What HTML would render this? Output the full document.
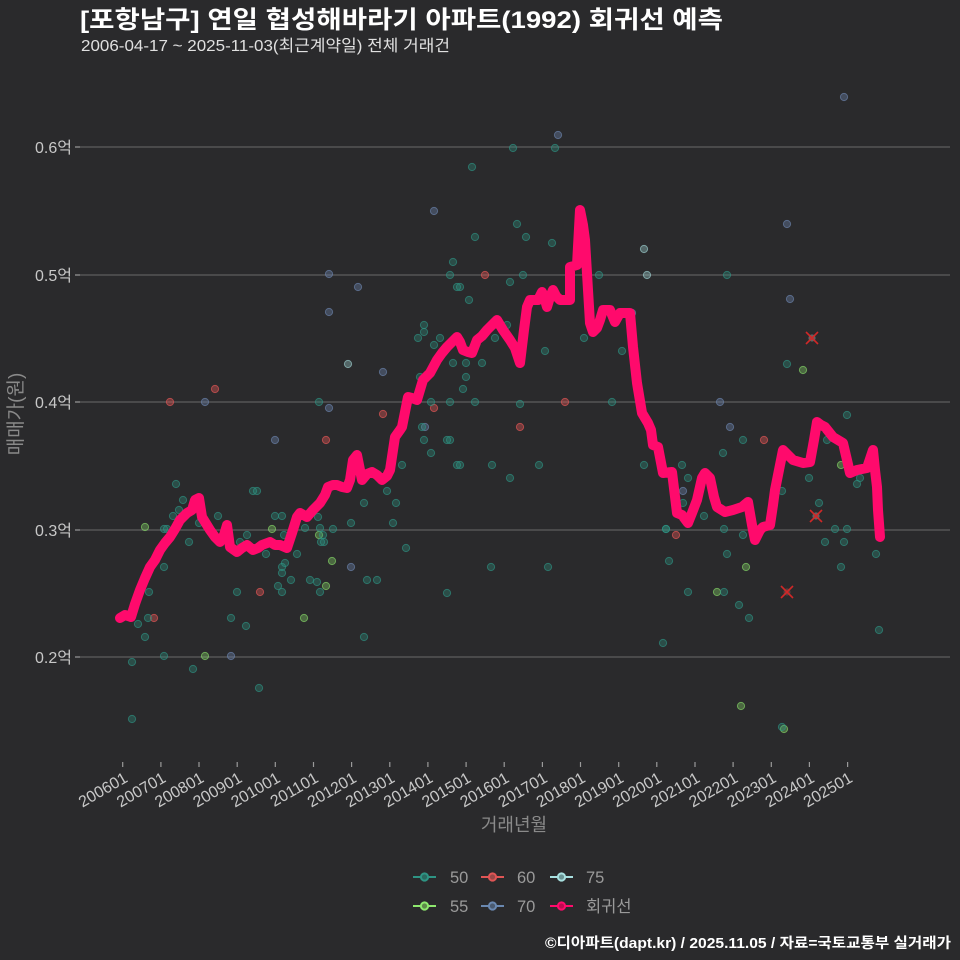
<!DOCTYPE html>
<html><head><meta charset="utf-8">
<style>
html,body{margin:0;padding:0;background:#2a2a2c;}
svg{display:block;}
text{font-family:"Liberation Sans","Noto Sans CJK KR",sans-serif;}
.t{fill:#2e9484;fill-opacity:.33;stroke:#2e9484;stroke-opacity:.65;stroke-width:1}
.g{fill:#8ee86e;fill-opacity:.33;stroke:#8ee86e;stroke-opacity:.6;stroke-width:1}
.r{fill:#e05555;fill-opacity:.4;stroke:#e05555;stroke-opacity:.7;stroke-width:1}
.b{fill:#6a80a8;fill-opacity:.4;stroke:#6a80a8;stroke-opacity:.7;stroke-width:1}
.c{fill:#a8e0e0;fill-opacity:.33;stroke:#a8e0e0;stroke-opacity:.6;stroke-width:1}
.xl{fill:#c8c8c8;font-size:16px}
</style></head>
<body>
<svg width="960" height="960" viewBox="0 0 960 960" xmlns="http://www.w3.org/2000/svg">
<rect width="960" height="960" fill="#2a2a2c"/>

<!-- Title -->
<text x="80" y="28" fill="#ffffff" font-size="24.5" font-weight="bold" textLength="643" lengthAdjust="spacingAndGlyphs">[포항남구] 연일 협성해바라기 아파트(1992) 회귀선 예측</text>
<text x="81" y="51" fill="#e0e0e0" font-size="16" textLength="369" lengthAdjust="spacingAndGlyphs">2006-04-17 ~ 2025-11-03(최근계약일) 전체 거래건</text>

<!-- grid -->
<g stroke="#5e5e5e" stroke-width="1.3">
<line x1="80" y1="147" x2="950" y2="147"/>
<line x1="80" y1="275" x2="950" y2="275"/>
<line x1="80" y1="402" x2="950" y2="402"/>
<line x1="80" y1="530" x2="950" y2="530"/>
<line x1="80" y1="657" x2="950" y2="657"/>
</g>
<g stroke="#9a9a9a" stroke-width="1.2">
<line x1="75" y1="147" x2="80" y2="147"/>
<line x1="75" y1="275" x2="80" y2="275"/>
<line x1="75" y1="402" x2="80" y2="402"/>
<line x1="75" y1="530" x2="80" y2="530"/>
<line x1="75" y1="657" x2="80" y2="657"/>
</g>
<g fill="#c8c8c8" font-size="16" text-anchor="end">
<text x="72" y="153">0.6억</text>
<text x="72" y="281">0.5억</text>
<text x="72" y="408">0.4억</text>
<text x="72" y="536">0.3억</text>
<text x="72" y="663">0.2억</text>
</g>
<text transform="translate(22,414) rotate(-90)" fill="#8a8a8a" font-size="19" text-anchor="middle">매매가(원)</text>

<!-- x ticks -->
<g stroke="#9a9a9a" stroke-width="1.2">
<line x1="122.7" y1="762" x2="122.7" y2="767"/><line x1="160.9" y1="762" x2="160.9" y2="767"/><line x1="199.0" y1="762" x2="199.0" y2="767"/><line x1="237.2" y1="762" x2="237.2" y2="767"/><line x1="275.3" y1="762" x2="275.3" y2="767"/><line x1="313.5" y1="762" x2="313.5" y2="767"/><line x1="351.6" y1="762" x2="351.6" y2="767"/><line x1="389.8" y1="762" x2="389.8" y2="767"/><line x1="427.9" y1="762" x2="427.9" y2="767"/><line x1="466.1" y1="762" x2="466.1" y2="767"/><line x1="504.2" y1="762" x2="504.2" y2="767"/><line x1="542.4" y1="762" x2="542.4" y2="767"/><line x1="580.5" y1="762" x2="580.5" y2="767"/><line x1="618.7" y1="762" x2="618.7" y2="767"/><line x1="656.8" y1="762" x2="656.8" y2="767"/><line x1="695.0" y1="762" x2="695.0" y2="767"/><line x1="733.1" y1="762" x2="733.1" y2="767"/><line x1="771.3" y1="762" x2="771.3" y2="767"/><line x1="809.4" y1="762" x2="809.4" y2="767"/><line x1="847.6" y1="762" x2="847.6" y2="767"/>
</g>
<g class="xl" text-anchor="end">
<text transform="translate(128.7,781) rotate(-30)">200601</text>
<text transform="translate(166.9,781) rotate(-30)">200701</text>
<text transform="translate(205.0,781) rotate(-30)">200801</text>
<text transform="translate(243.2,781) rotate(-30)">200901</text>
<text transform="translate(281.3,781) rotate(-30)">201001</text>
<text transform="translate(319.5,781) rotate(-30)">201101</text>
<text transform="translate(357.6,781) rotate(-30)">201201</text>
<text transform="translate(395.8,781) rotate(-30)">201301</text>
<text transform="translate(433.9,781) rotate(-30)">201401</text>
<text transform="translate(472.1,781) rotate(-30)">201501</text>
<text transform="translate(510.2,781) rotate(-30)">201601</text>
<text transform="translate(548.4,781) rotate(-30)">201701</text>
<text transform="translate(586.5,781) rotate(-30)">201801</text>
<text transform="translate(624.7,781) rotate(-30)">201901</text>
<text transform="translate(662.8,781) rotate(-30)">202001</text>
<text transform="translate(701.0,781) rotate(-30)">202101</text>
<text transform="translate(739.1,781) rotate(-30)">202201</text>
<text transform="translate(777.3,781) rotate(-30)">202301</text>
<text transform="translate(815.4,781) rotate(-30)">202401</text>
<text transform="translate(853.6,781) rotate(-30)">202501</text>
</g>
<text x="514" y="831" fill="#8a8a8a" font-size="18" text-anchor="middle">거래년월</text>

<!-- points -->
<g>
<circle class="b" cx="844" cy="97" r="3.6"/><circle class="b" cx="558" cy="135" r="3.6"/><circle class="b" cx="434" cy="211" r="3.6"/><circle class="b" cx="329" cy="274" r="3.6"/><circle class="b" cx="329" cy="312" r="3.6"/><circle class="b" cx="358" cy="287" r="3.6"/><circle class="b" cx="787" cy="224" r="3.6"/><circle class="b" cx="790" cy="299" r="3.6"/><circle class="b" cx="383" cy="372" r="3.6"/><circle class="b" cx="205" cy="402" r="3.6"/><circle class="b" cx="329" cy="408" r="3.6"/><circle class="b" cx="275" cy="440" r="3.6"/><circle class="b" cx="720" cy="402" r="3.6"/><circle class="b" cx="730" cy="427" r="3.6"/><circle class="b" cx="683" cy="491" r="3.6"/><circle class="b" cx="351" cy="567" r="3.6"/><circle class="b" cx="231" cy="656" r="3.6"/><circle class="b" cx="632" cy="313" r="3.6"/><circle class="b" cx="425" cy="427" r="3.6"/>

<circle class="g" cx="145" cy="527" r="3.6"/><circle class="g" cx="272" cy="529" r="3.6"/><circle class="g" cx="304" cy="618" r="3.6"/><circle class="g" cx="205" cy="656" r="3.6"/><circle class="g" cx="326" cy="586" r="3.6"/><circle class="g" cx="332" cy="561" r="3.6"/><circle class="g" cx="319" cy="535" r="3.6"/><circle class="g" cx="803" cy="370" r="3.6"/><circle class="g" cx="841" cy="465" r="3.6"/><circle class="g" cx="746" cy="567" r="3.6"/><circle class="g" cx="717" cy="592" r="3.6"/><circle class="g" cx="741" cy="706" r="3.6"/><circle class="g" cx="784" cy="729" r="3.6"/>

<circle class="c" cx="348" cy="364" r="3.6"/><circle class="c" cx="644" cy="249" r="3.6"/><circle class="c" cx="647" cy="275" r="3.6"/>

<circle class="r" cx="215" cy="389" r="3.6"/><circle class="r" cx="170" cy="402" r="3.6"/><circle class="r" cx="326" cy="440" r="3.6"/><circle class="r" cx="154" cy="618" r="3.6"/><circle class="r" cx="260" cy="592" r="3.6"/><circle class="r" cx="485" cy="275" r="3.6"/><circle class="r" cx="565" cy="402" r="3.6"/><circle class="r" cx="434" cy="408" r="3.6"/><circle class="r" cx="383" cy="414" r="3.6"/><circle class="r" cx="520" cy="427" r="3.6"/><circle class="r" cx="764" cy="440" r="3.6"/><circle class="r" cx="676" cy="535" r="3.6"/>

<circle class="t" cx="555" cy="148" r="3.6"/><circle class="t" cx="513" cy="148" r="3.6"/><circle class="t" cx="472" cy="167" r="3.6"/><circle class="t" cx="517" cy="224" r="3.6"/><circle class="t" cx="475" cy="237" r="3.6"/><circle class="t" cx="526" cy="237" r="3.6"/><circle class="t" cx="552" cy="243" r="3.6"/><circle class="t" cx="453" cy="262" r="3.6"/><circle class="t" cx="450" cy="275" r="3.6"/><circle class="t" cx="523" cy="275" r="3.6"/><circle class="t" cx="457" cy="287" r="3.6"/><circle class="t" cx="460" cy="287" r="3.6"/><circle class="t" cx="510" cy="282" r="3.6"/><circle class="t" cx="469" cy="300" r="3.6"/><circle class="t" cx="424" cy="325" r="3.6"/><circle class="t" cx="424" cy="332" r="3.6"/><circle class="t" cx="418" cy="338" r="3.6"/><circle class="t" cx="440" cy="338" r="3.6"/><circle class="t" cx="434" cy="345" r="3.6"/><circle class="t" cx="453" cy="363" r="3.6"/><circle class="t" cx="466" cy="363" r="3.6"/><circle class="t" cx="482" cy="363" r="3.6"/><circle class="t" cx="466" cy="377" r="3.6"/><circle class="t" cx="420" cy="377" r="3.6"/><circle class="t" cx="463" cy="389" r="3.6"/><circle class="t" cx="431" cy="402" r="3.6"/><circle class="t" cx="450" cy="402" r="3.6"/><circle class="t" cx="475" cy="402" r="3.6"/><circle class="t" cx="520" cy="404" r="3.6"/><circle class="t" cx="612" cy="402" r="3.6"/><circle class="t" cx="599" cy="275" r="3.6"/><circle class="t" cx="584" cy="338" r="3.6"/><circle class="t" cx="545" cy="351" r="3.6"/><circle class="t" cx="507" cy="325" r="3.6"/><circle class="t" cx="495" cy="338" r="3.6"/><circle class="t" cx="422" cy="427" r="3.6"/><circle class="t" cx="424" cy="440" r="3.6"/><circle class="t" cx="447" cy="440" r="3.6"/><circle class="t" cx="450" cy="440" r="3.6"/><circle class="t" cx="431" cy="453" r="3.6"/><circle class="t" cx="402" cy="465" r="3.6"/><circle class="t" cx="457" cy="465" r="3.6"/><circle class="t" cx="460" cy="465" r="3.6"/><circle class="t" cx="492" cy="465" r="3.6"/><circle class="t" cx="539" cy="465" r="3.6"/><circle class="t" cx="510" cy="478" r="3.6"/><circle class="t" cx="387" cy="491" r="3.6"/><circle class="t" cx="364" cy="503" r="3.6"/><circle class="t" cx="396" cy="503" r="3.6"/><circle class="t" cx="351" cy="523" r="3.6"/><circle class="t" cx="393" cy="523" r="3.6"/><circle class="t" cx="406" cy="548" r="3.6"/><circle class="t" cx="367" cy="580" r="3.6"/><circle class="t" cx="377" cy="580" r="3.6"/><circle class="t" cx="491" cy="567" r="3.6"/><circle class="t" cx="548" cy="567" r="3.6"/><circle class="t" cx="447" cy="593" r="3.6"/><circle class="t" cx="364" cy="637" r="3.6"/><circle class="t" cx="663" cy="643" r="3.6"/><circle class="t" cx="666" cy="529" r="3.6"/><circle class="t" cx="669" cy="561" r="3.6"/>
<circle class="t" cx="319" cy="402" r="3.6"/><circle class="t" cx="176" cy="484" r="3.6"/><circle class="t" cx="183" cy="500" r="3.6"/><circle class="t" cx="179" cy="510" r="3.6"/><circle class="t" cx="173" cy="516" r="3.6"/><circle class="t" cx="164" cy="529" r="3.6"/><circle class="t" cx="167" cy="529" r="3.6"/><circle class="t" cx="199" cy="523" r="3.6"/><circle class="t" cx="218" cy="516" r="3.6"/><circle class="t" cx="275" cy="516" r="3.6"/><circle class="t" cx="282" cy="516" r="3.6"/><circle class="t" cx="253" cy="491" r="3.6"/><circle class="t" cx="257" cy="491" r="3.6"/><circle class="t" cx="318" cy="517" r="3.6"/><circle class="t" cx="247" cy="535" r="3.6"/><circle class="t" cx="240" cy="542" r="3.6"/><circle class="t" cx="284" cy="535" r="3.6"/><circle class="t" cx="189" cy="542" r="3.6"/><circle class="t" cx="305" cy="528" r="3.6"/><circle class="t" cx="320" cy="528" r="3.6"/><circle class="t" cx="333" cy="529" r="3.6"/><circle class="t" cx="323" cy="535" r="3.6"/><circle class="t" cx="321" cy="542" r="3.6"/><circle class="t" cx="324" cy="542" r="3.6"/><circle class="t" cx="266" cy="554" r="3.6"/><circle class="t" cx="297" cy="554" r="3.6"/><circle class="t" cx="285" cy="563" r="3.6"/><circle class="t" cx="164" cy="567" r="3.6"/><circle class="t" cx="282" cy="567" r="3.6"/><circle class="t" cx="282" cy="573" r="3.6"/><circle class="t" cx="291" cy="580" r="3.6"/><circle class="t" cx="310" cy="580" r="3.6"/><circle class="t" cx="317" cy="582" r="3.6"/><circle class="t" cx="149" cy="592" r="3.6"/><circle class="t" cx="237" cy="592" r="3.6"/><circle class="t" cx="278" cy="586" r="3.6"/><circle class="t" cx="282" cy="592" r="3.6"/><circle class="t" cx="320" cy="592" r="3.6"/><circle class="t" cx="148" cy="618" r="3.6"/><circle class="t" cx="231" cy="618" r="3.6"/><circle class="t" cx="138" cy="624" r="3.6"/><circle class="t" cx="246" cy="626" r="3.6"/><circle class="t" cx="145" cy="637" r="3.6"/><circle class="t" cx="164" cy="656" r="3.6"/><circle class="t" cx="132" cy="662" r="3.6"/><circle class="t" cx="193" cy="669" r="3.6"/><circle class="t" cx="259" cy="688" r="3.6"/><circle class="t" cx="132" cy="719" r="3.6"/>
<circle class="t" cx="787" cy="364" r="3.6"/><circle class="t" cx="622" cy="351" r="3.6"/><circle class="t" cx="847" cy="415" r="3.6"/><circle class="t" cx="743" cy="440" r="3.6"/><circle class="t" cx="723" cy="453" r="3.6"/><circle class="t" cx="644" cy="465" r="3.6"/><circle class="t" cx="682" cy="465" r="3.6"/><circle class="t" cx="688" cy="478" r="3.6"/><circle class="t" cx="809" cy="478" r="3.6"/><circle class="t" cx="827" cy="440" r="3.6"/><circle class="t" cx="860" cy="478" r="3.6"/><circle class="t" cx="857" cy="484" r="3.6"/><circle class="t" cx="782" cy="491" r="3.6"/><circle class="t" cx="683" cy="503" r="3.6"/><circle class="t" cx="819" cy="503" r="3.6"/><circle class="t" cx="704" cy="516" r="3.6"/><circle class="t" cx="724" cy="529" r="3.6"/><circle class="t" cx="835" cy="529" r="3.6"/><circle class="t" cx="847" cy="529" r="3.6"/><circle class="t" cx="743" cy="535" r="3.6"/><circle class="t" cx="825" cy="542" r="3.6"/><circle class="t" cx="844" cy="542" r="3.6"/><circle class="t" cx="727" cy="554" r="3.6"/><circle class="t" cx="876" cy="554" r="3.6"/><circle class="t" cx="841" cy="567" r="3.6"/><circle class="t" cx="688" cy="592" r="3.6"/><circle class="t" cx="724" cy="592" r="3.6"/><circle class="t" cx="739" cy="605" r="3.6"/><circle class="t" cx="749" cy="618" r="3.6"/><circle class="t" cx="879" cy="630" r="3.6"/><circle class="t" cx="782" cy="727" r="3.6"/><circle class="t" cx="727" cy="275" r="3.6"/><circle class="t" cx="666" cy="529" r="3.6"/>
</g>

<!-- regression line -->
<polyline fill="none" stroke="#ff0a6c" stroke-width="10" stroke-linejoin="round" stroke-linecap="round" points="120,618 125,615 131,617 135,604 140,590 145,578 150,567 155,560 160,550 165,543 170,537 175,529 180,520 187,513 192,510 195,500 199,498 202,517 210,530 215,537 220,542 224,535 227,525 230,547 237,552 242,548 247,545 253,550 258,548 262,545 270,542 275,545 280,545 287,548 292,533 297,517 300,513 307,517 313,510 320,503 325,495 328,487 333,485 337,485 342,487 347,488 350,480 353,460 357,455 360,470 362,480 367,474 372,472 377,475 382,480 387,476 390,470 395,437 400,430 402,427 408,397 412,398 417,400 423,380 430,373 437,360 442,353 447,347 452,342 457,337 460,342 463,350 468,352 472,353 477,340 482,336 487,330 492,325 497,320 503,330 510,340 515,348 520,363 524,330 527,307 530,300 538,300 542,292 545,300 547,307 550,297 553,290 556,296 560,300 570,300 570,267 577,265 580,210 583,225 585,240 588,290 590,323 593,332 597,328 600,320 603,310 610,310 615,322 620,313 630,313 633,347 637,383 642,413 648,423 651,430 653,445 658,447 663,473 672,472 677,513 682,515 688,523 692,513 697,500 702,478 705,473 710,478 714,497 717,507 725,512 733,510 742,507 748,502 752,525 755,540 760,530 763,527 770,525 773,505 775,490 779,470 783,450 788,455 793,460 803,463 810,462 814,440 817,422 821,425 825,427 833,437 838,440 843,443 847,460 850,473 857,470 867,468 873,450 875,470 877,487 878,510 880,537"/>

<!-- outlier markers -->
<g>
<circle cx="812" cy="338" r="3.6" fill="#8a8a8a" fill-opacity=".6"/>
<circle cx="816" cy="516" r="3.6" fill="#8a8a8a" fill-opacity=".6"/>
<circle cx="787" cy="592" r="3.6" fill="#8a5050" fill-opacity=".5"/>
<g stroke="#d02828" stroke-width="1.6">
<line x1="806" y1="332" x2="818" y2="344"/><line x1="806" y1="344" x2="818" y2="332"/>
<line x1="810" y1="510" x2="822" y2="522"/><line x1="810" y1="522" x2="822" y2="510"/>
<line x1="781" y1="586" x2="793" y2="598"/><line x1="781" y1="598" x2="793" y2="586"/>
</g>
</g>

<!-- legend -->
<g stroke-width="2">
<line x1="413" y1="877" x2="436" y2="877" stroke="#2e9484"/><circle cx="424.5" cy="877" r="3.6" fill="#2a6a60" stroke="#2e9484"/>
<line x1="481" y1="877" x2="504" y2="877" stroke="#e05555"/><circle cx="492.5" cy="877" r="3.6" fill="#9a4848" stroke="#e05555"/>
<line x1="550" y1="877" x2="573" y2="877" stroke="#a8e0e0"/><circle cx="561.5" cy="877" r="3.6" fill="#6a9494" stroke="#a8e0e0"/>
<line x1="413" y1="906" x2="436" y2="906" stroke="#8ee86e"/><circle cx="424.5" cy="906" r="3.6" fill="#5e8a4a" stroke="#8ee86e"/>
<line x1="481" y1="906" x2="504" y2="906" stroke="#6a88b0"/><circle cx="492.5" cy="906" r="3.6" fill="#4a5a70" stroke="#6a88b0"/>
<line x1="550" y1="906" x2="573" y2="906" stroke="#ff0a6c"/><circle cx="561.5" cy="906" r="3.6" fill="#c00a50" stroke="#ff0a6c"/>
</g>
<g fill="#9a9a9a" font-size="16.5">
<text x="450" y="883">50</text>
<text x="517" y="883">60</text>
<text x="586" y="883">75</text>
<text x="450" y="912">55</text>
<text x="517" y="912">70</text>
<text x="586" y="912">회귀선</text>
</g>

<!-- footer -->
<text x="951" y="948" fill="#ffffff" font-size="14.5" font-weight="bold" text-anchor="end" textLength="406" lengthAdjust="spacingAndGlyphs">©디아파트(dapt.kr) / 2025.11.05 / 자료=국토교통부 실거래가</text>
</svg>
</body></html>
